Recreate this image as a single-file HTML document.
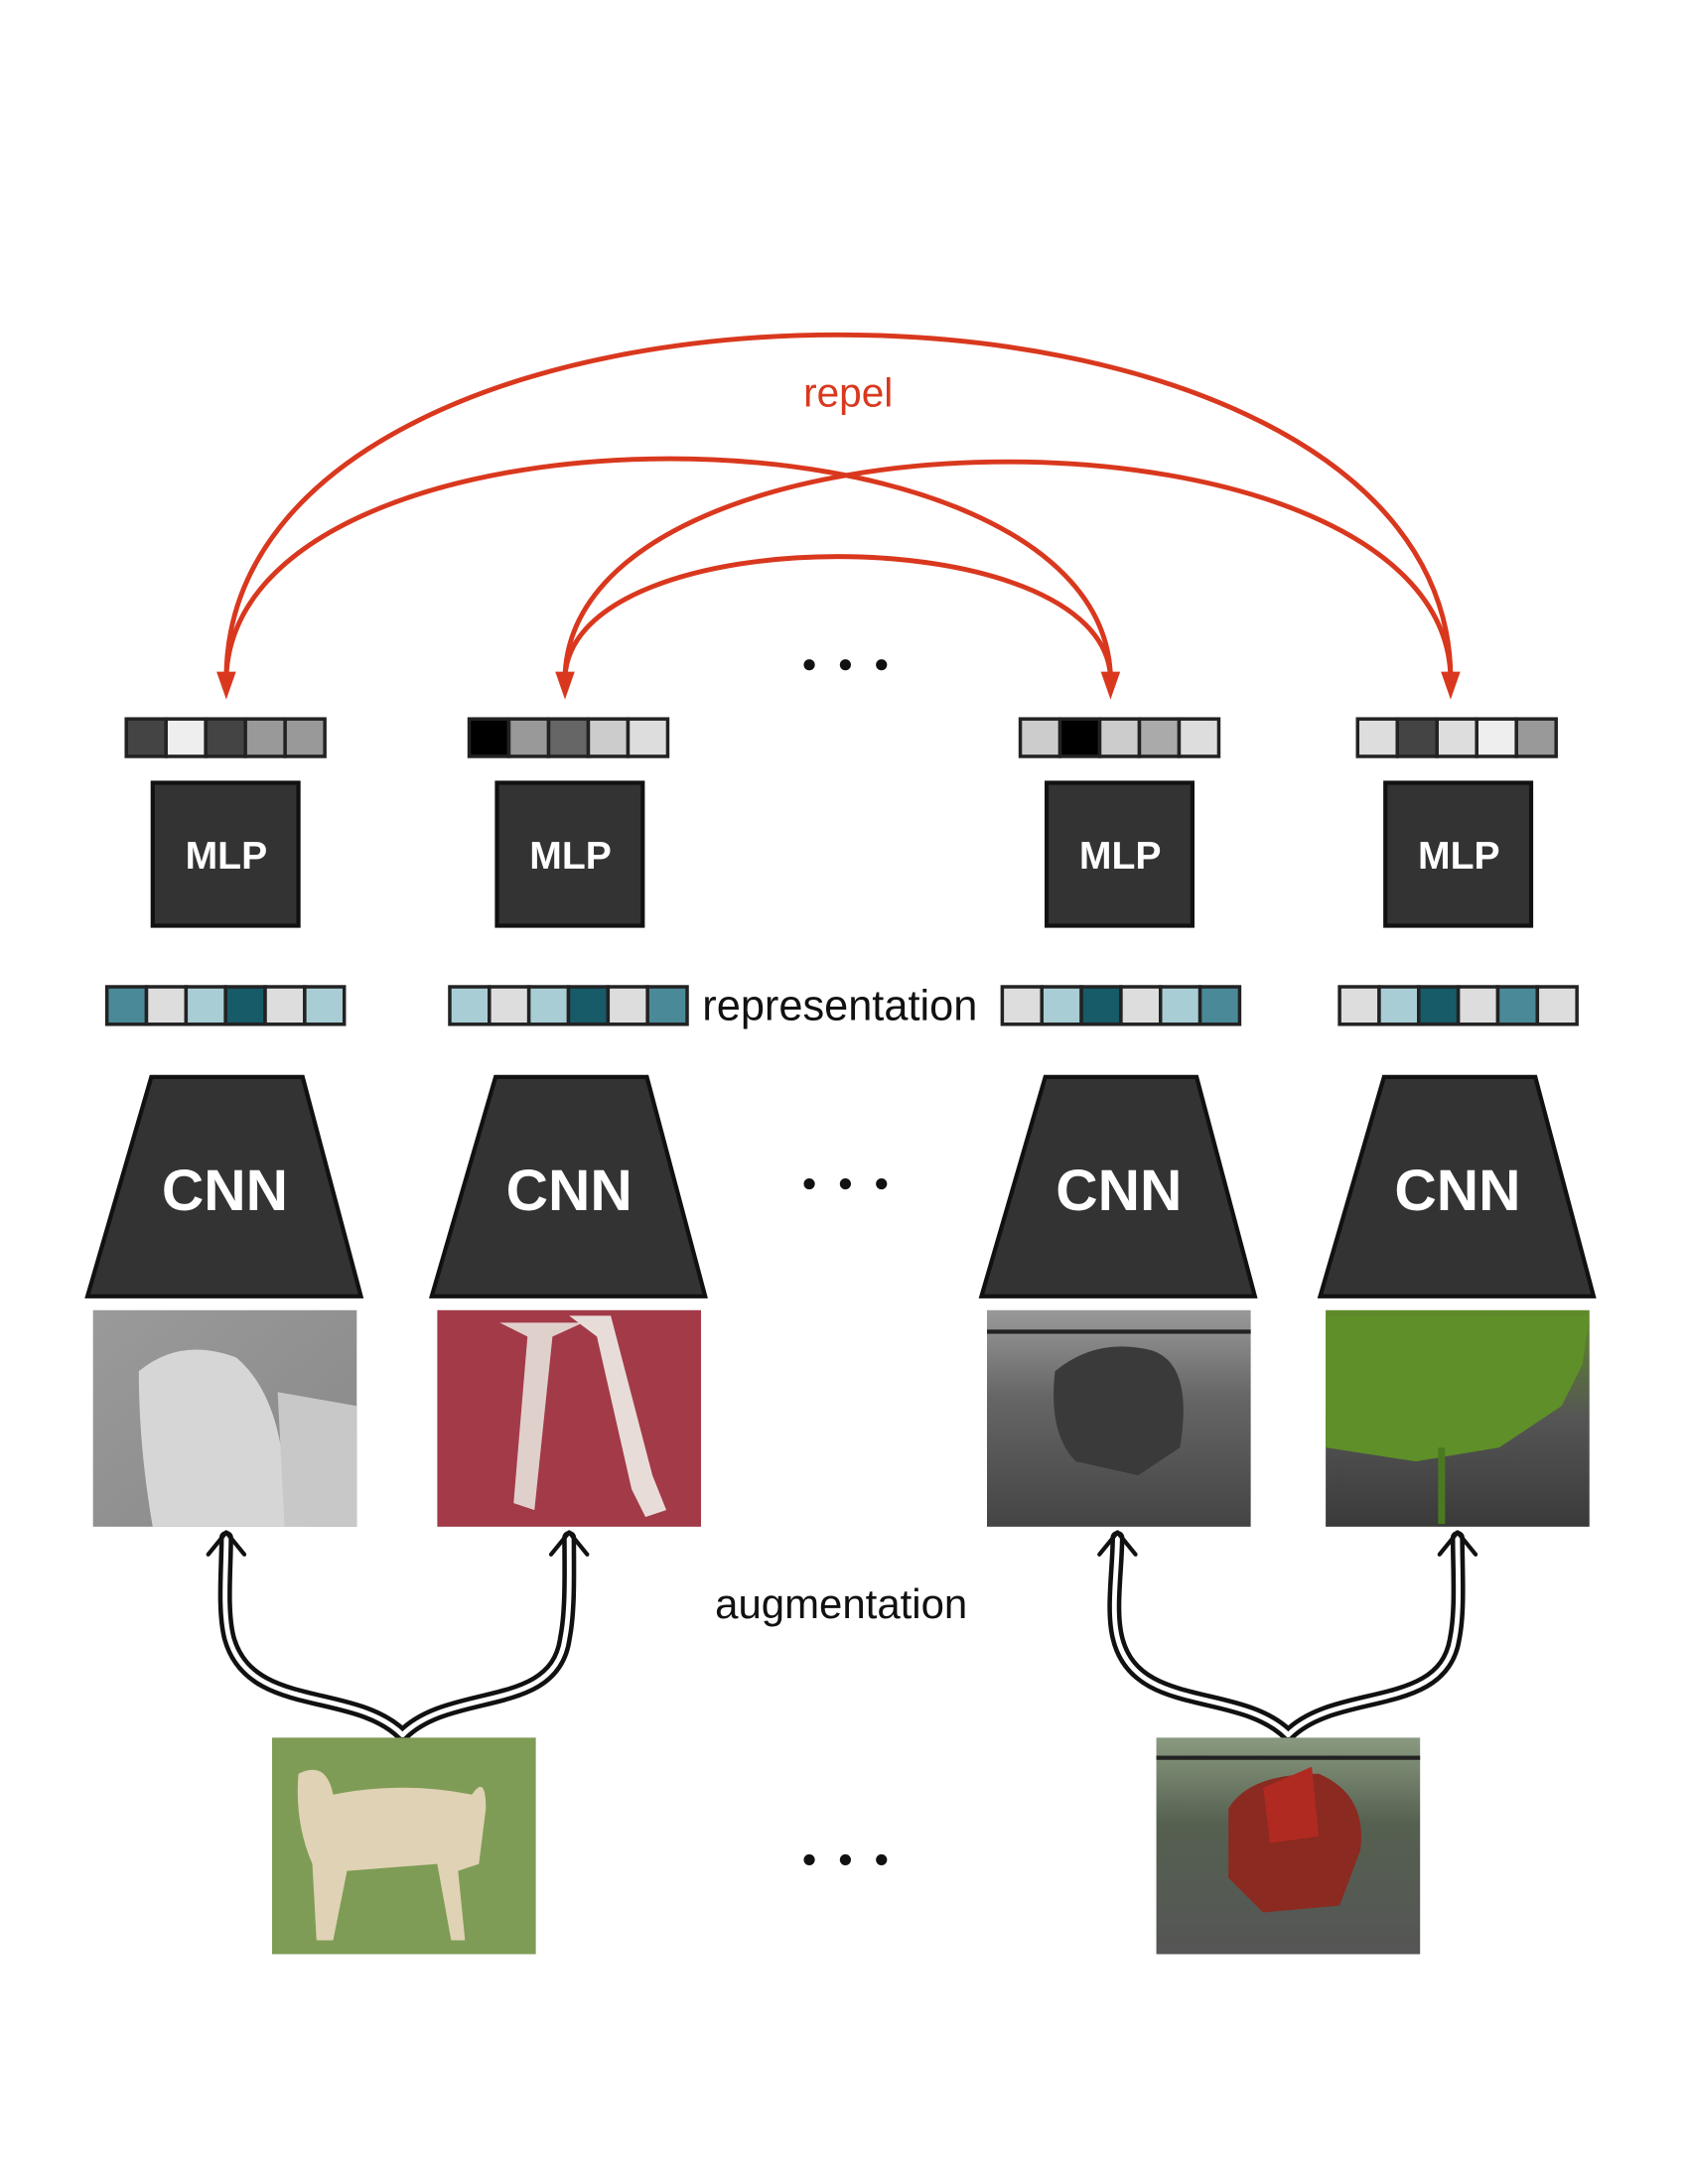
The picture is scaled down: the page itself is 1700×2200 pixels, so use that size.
<!DOCTYPE html>
<html><head><meta charset="utf-8"><style>
html,body{margin:0;padding:0;background:#fff;}
svg{display:block;}
text{font-family:"Liberation Sans","DejaVu Sans",sans-serif;}
</style></head><body>
<svg width="1700" height="2200" viewBox="0 0 1216 1573.6" preserveAspectRatio="none" xmlns="http://www.w3.org/2000/svg">
<defs>
<linearGradient id="g1" x1="0" y1="0" x2="1" y2="1"><stop offset="0" stop-color="#9a9a9a"/><stop offset="1" stop-color="#888"/></linearGradient>
<linearGradient id="g4" x1="0" y1="0" x2="0" y2="1"><stop offset="0" stop-color="#5f8a2a"/><stop offset="0.5" stop-color="#555"/><stop offset="1" stop-color="#3a3a3a"/></linearGradient>
<linearGradient id="g3" x1="0" y1="0" x2="0" y2="1"><stop offset="0" stop-color="#999"/><stop offset="0.4" stop-color="#666"/><stop offset="1" stop-color="#444"/></linearGradient>
<linearGradient id="g6" x1="0" y1="0" x2="0" y2="1"><stop offset="0" stop-color="#8a9a80"/><stop offset="0.4" stop-color="#556050"/><stop offset="1" stop-color="#555"/></linearGradient>
</defs>
<g transform="translate(0,3)">
<!-- repel arcs -->
<g fill="none" stroke="#d9381e" stroke-width="3.5">
<path d="M163,485 C165,156 1043,156 1045,485"/>
<path d="M163,485 C170,275 795,275 800,485"/>
<path d="M407,485 C412,278 1040,278 1045,485"/>
<path d="M407,485 C412,369 795,369 800,485"/>
</g>
<g fill="#d9381e">
<polygon points="156,481 170,481 163,501"/>
<polygon points="400,481 414,481 407,501"/>
<polygon points="793,481 807,481 800,501"/>
<polygon points="1038,481 1052,481 1045,501"/>
</g>
<text x="611" y="290" font-size="29" fill="#d9381e" text-anchor="middle">repel</text>

<!-- dots -->
<g fill="#111">
<circle cx="583" cy="476" r="4"/><circle cx="609" cy="476" r="4"/><circle cx="635" cy="476" r="4"/>
<circle cx="583" cy="850" r="4"/><circle cx="609" cy="850" r="4"/><circle cx="635" cy="850" r="4"/>
<circle cx="583" cy="1337" r="4"/><circle cx="609" cy="1337" r="4"/><circle cx="635" cy="1337" r="4"/>
</g>

<!-- top vectors -->
<g stroke="#222" stroke-width="2.5">
<g transform="translate(91,515)">
<rect x="0" y="0" width="28.6" height="27" fill="#444"/><rect x="28.6" y="0" width="28.6" height="27" fill="#eee"/><rect x="57.2" y="0" width="28.6" height="27" fill="#444"/><rect x="85.8" y="0" width="28.6" height="27" fill="#999"/><rect x="114.4" y="0" width="28.6" height="27" fill="#999"/>
</g>
<g transform="translate(338,515)">
<rect x="0" y="0" width="28.6" height="27" fill="#000"/><rect x="28.6" y="0" width="28.6" height="27" fill="#999"/><rect x="57.2" y="0" width="28.6" height="27" fill="#666"/><rect x="85.8" y="0" width="28.6" height="27" fill="#ccc"/><rect x="114.4" y="0" width="28.6" height="27" fill="#ddd"/>
</g>
<g transform="translate(735,515)">
<rect x="0" y="0" width="28.6" height="27" fill="#ccc"/><rect x="28.6" y="0" width="28.6" height="27" fill="#000"/><rect x="57.2" y="0" width="28.6" height="27" fill="#ccc"/><rect x="85.8" y="0" width="28.6" height="27" fill="#aaa"/><rect x="114.4" y="0" width="28.6" height="27" fill="#ddd"/>
</g>
<g transform="translate(978,515)">
<rect x="0" y="0" width="28.6" height="27" fill="#ddd"/><rect x="28.6" y="0" width="28.6" height="27" fill="#444"/><rect x="57.2" y="0" width="28.6" height="27" fill="#ddd"/><rect x="85.8" y="0" width="28.6" height="27" fill="#eee"/><rect x="114.4" y="0" width="28.6" height="27" fill="#999"/>
</g>
</g>

<!-- MLP boxes -->
<g fill="#333" stroke="#111" stroke-width="3">
<rect x="110" y="561" width="105" height="103"/>
<rect x="358" y="561" width="105" height="103"/>
<rect x="754" y="561" width="105" height="103"/>
<rect x="998" y="561" width="105" height="103"/>
</g>
<g fill="#fff" font-size="28" font-weight="bold" text-anchor="middle">
<text x="163" y="623">MLP</text><text x="411" y="623">MLP</text><text x="807" y="623">MLP</text><text x="1051" y="623">MLP</text>
</g>

<!-- representation vectors -->
<g stroke="#222" stroke-width="2.5">
<g transform="translate(77,708)">
<rect x="0" width="28.5" height="27" fill="#4a8a98"/><rect x="28.5" width="28.5" height="27" fill="#ddd"/><rect x="57" width="28.5" height="27" fill="#a8cdd5"/><rect x="85.5" width="28.5" height="27" fill="#175a68"/><rect x="114" width="28.5" height="27" fill="#ddd"/><rect x="142.5" width="28.5" height="27" fill="#a8cdd5"/>
</g>
<g transform="translate(324,708)">
<rect x="0" width="28.5" height="27" fill="#a8cdd5"/><rect x="28.5" width="28.5" height="27" fill="#ddd"/><rect x="57" width="28.5" height="27" fill="#a8cdd5"/><rect x="85.5" width="28.5" height="27" fill="#175a68"/><rect x="114" width="28.5" height="27" fill="#ddd"/><rect x="142.5" width="28.5" height="27" fill="#4a8a98"/>
</g>
<g transform="translate(722,708)">
<rect x="0" width="28.5" height="27" fill="#ddd"/><rect x="28.5" width="28.5" height="27" fill="#a8cdd5"/><rect x="57" width="28.5" height="27" fill="#175a68"/><rect x="85.5" width="28.5" height="27" fill="#ddd"/><rect x="114" width="28.5" height="27" fill="#a8cdd5"/><rect x="142.5" width="28.5" height="27" fill="#4a8a98"/>
</g>
<g transform="translate(965,708)">
<rect x="0" width="28.5" height="27" fill="#ddd"/><rect x="28.5" width="28.5" height="27" fill="#a8cdd5"/><rect x="57" width="28.5" height="27" fill="#175a68"/><rect x="85.5" width="28.5" height="27" fill="#ddd"/><rect x="114" width="28.5" height="27" fill="#4a8a98"/><rect x="142.5" width="28.5" height="27" fill="#ddd"/>
</g>
</g>
<text x="605" y="732" font-size="31" fill="#111" text-anchor="middle">representation</text>

<!-- CNN trapezoids -->
<g fill="#333" stroke="#111" stroke-width="3">
<polygon points="109,773 218,773 260,931 63,931"/>
<polygon points="357,773 466,773 508,931 311,931"/>
<polygon points="753,773 862,773 904,931 707,931"/>
<polygon points="997,773 1106,773 1148,931 951,931"/>
</g>
<g fill="#fff" font-size="42" font-weight="bold" text-anchor="middle">
<text x="162" y="869">CNN</text><text x="410" y="869">CNN</text><text x="806" y="869">CNN</text><text x="1050" y="869">CNN</text>
</g>

<!-- augmented images -->
<rect x="67" y="941" width="190" height="156" fill="url(#g1)"/>
<path d="M100,985 Q130,960 170,975 Q200,1000 205,1060 L220,1097 L110,1097 Q100,1040 100,985 Z" fill="#d6d6d6"/>
<path d="M200,1000 L257,1010 L257,1097 L205,1097 Z" fill="#c8c8c8"/>
<rect x="315" y="941" width="190" height="156" fill="#a33a48"/>
<path d="M360,950 L380,960 L370,1080 L385,1085 L398,960 L420,950 Z" fill="#e0d0cc"/>
<path d="M410,945 L440,945 L470,1060 L480,1085 L465,1090 L455,1070 L430,960 Z" fill="#e8dcd8"/>
<rect x="711" y="941" width="190" height="156" fill="url(#g3)"/>
<rect x="711" y="955" width="190" height="3" fill="#222"/>
<path d="M760,985 Q790,960 830,970 Q860,980 850,1040 L820,1060 L775,1050 Q755,1030 760,985 Z" fill="#3a3a3a"/>
<rect x="955" y="941" width="190" height="156" fill="url(#g4)"/>
<path d="M955,945 L1145,945 L1140,980 L1125,1010 L1080,1040 L1020,1050 L955,1040 Z" fill="#5f8f28"/>
<rect x="1036" y="1040" width="5" height="55" fill="#4a7a20"/>

<!-- augmentation arrows -->
<g fill="none" stroke-linecap="round" stroke-linejoin="round">
<g stroke="#111" stroke-width="10">
<path d="M290,1247 C255,1212 180,1232 165,1177 C160,1157 163,1127 163,1105"/>
<path d="M290,1247 C325,1212 400,1232 407,1177 C411,1157 410,1127 410,1105"/>
<path d="M928,1247 C893,1212 818,1232 805,1177 C800,1157 805,1127 805,1105"/>
<path d="M928,1247 C963,1212 1040,1232 1048,1177 C1052,1157 1050,1127 1050,1105"/>
</g>
<g stroke="#fff" stroke-width="3.5">
<path d="M290,1247 C255,1212 180,1232 165,1177 C160,1157 163,1127 163,1105"/>
<path d="M290,1247 C325,1212 400,1232 407,1177 C411,1157 410,1127 410,1105"/>
<path d="M928,1247 C893,1212 818,1232 805,1177 C800,1157 805,1127 805,1105"/>
<path d="M928,1247 C963,1212 1040,1232 1048,1177 C1052,1157 1050,1127 1050,1105"/>
</g>
<g stroke="#111" stroke-width="3">
<polyline points="150,1117 163,1101 176,1117"/>
<polyline points="397,1117 410,1101 423,1117"/>
<polyline points="792,1117 805,1101 818,1117"/>
<polyline points="1037,1117 1050,1101 1063,1117"/>
</g>
</g>
<text x="606" y="1163" font-size="30" fill="#111" text-anchor="middle">augmentation</text>

<!-- original images -->
<rect x="196" y="1249" width="190" height="156" fill="#7e9c55"/>
<path d="M215,1275 Q235,1265 240,1290 Q290,1280 340,1290 Q350,1275 350,1300 L345,1340 L330,1345 L335,1395 L325,1395 L315,1340 L250,1345 L240,1395 L228,1395 L225,1340 Q212,1310 215,1275 Z" fill="#e0d2b4"/>
<rect x="833" y="1249" width="190" height="156" fill="url(#g6)"/>
<rect x="833" y="1262" width="190" height="3" fill="#222"/>
<path d="M885,1300 Q900,1275 950,1275 Q985,1290 980,1330 L965,1370 L910,1375 L885,1350 Z" fill="#8a2a20"/>
<path d="M910,1285 L945,1270 L950,1320 L915,1325 Z" fill="#b02a22"/>
</g>
</svg>
</body></html>
